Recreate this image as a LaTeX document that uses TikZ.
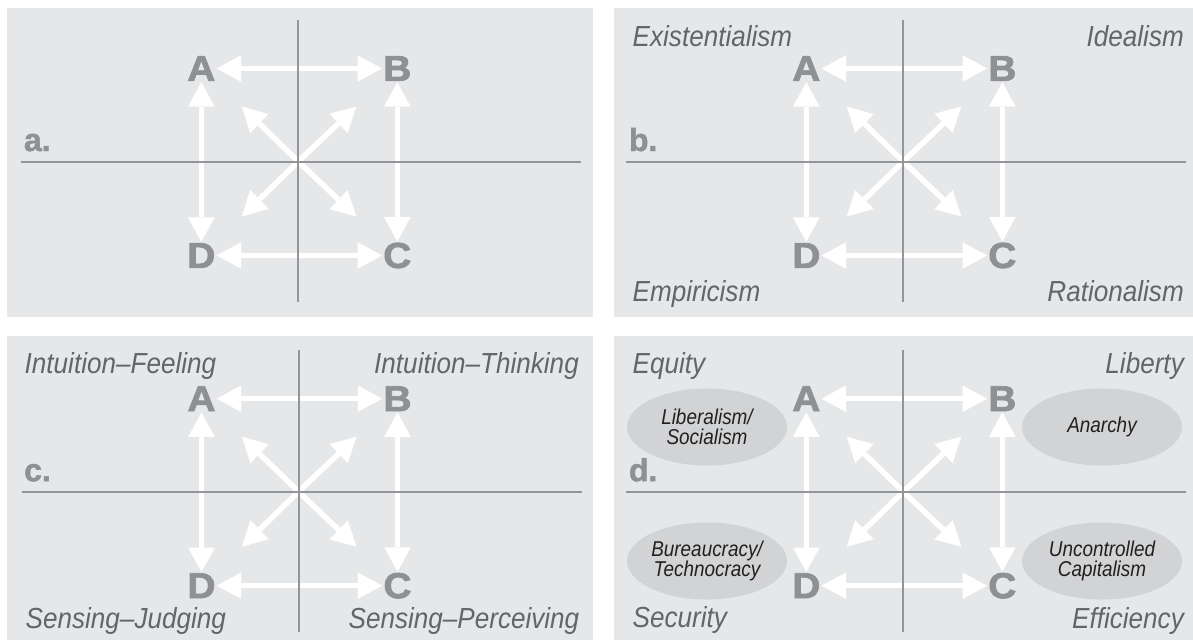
\documentclass[tikz,border=0pt]{standalone}
\usepackage{fontspec}
\setmainfont{Liberation Sans}
\newfontfamily\cornerfont[FakeStretch=1.08, BoldFeatures={FakeBold=2}]{Liberation Sans}
\newfontfamily\tagfont[BoldFeatures={FakeBold=1.5}]{Liberation Sans}
\newfontfamily\captionfont[FakeStretch=0.9]{Liberation Sans}
\newfontfamily\ovalfont[FakeStretch=0.88]{Liberation Sans}
\usetikzlibrary{arrows.meta,shapes.geometric}

\definecolor{panelbg}{HTML}{E6E7E8}
\definecolor{axisgray}{HTML}{939598}
\definecolor{lettergray}{HTML}{8F9093}
\definecolor{textgray}{HTML}{646568}
\definecolor{ovalfill}{HTML}{D1D3D4}
\definecolor{ovaltext}{HTML}{231F20}

\tikzset{
  panel/.style={fill=panelbg, draw=none},
  axis/.style={draw=axisgray, line width=2pt},
  corner/.style={font=\cornerfont\bfseries\fontsize{36}{36}\selectfont,
    text=lettergray, inner sep=1pt},
  tag/.style={font=\tagfont\bfseries\fontsize{32}{32}\selectfont, text=lettergray,
    inner sep=0pt, anchor=base west},
  whitehead/.tip={Triangle[length=24.5pt,width=26.5pt,line width=0pt]},
  twoway/.style={draw=white, line width=5.5pt, whitehead-whitehead},
  oneway/.style={draw=white, line width=5.5pt, -whitehead},
  pole/.style={font=\captionfont\itshape\fontsize{29}{30}\selectfont,
    text=textgray, inner sep=0pt},
  poleL/.style={pole, anchor=base west},
  poleR/.style={pole, anchor=base east},
  oval/.style={ellipse, fill=ovalfill, minimum width=160pt,
    minimum height=77pt, inner sep=0pt, align=center,
    font=\ovalfont\itshape\fontsize{21.5}{20.5}\selectfont, text=ovaltext},
}

% One quadrant diagram: #1 name prefix, #2/#3 centre of the axes, #4 tag
\newcommand\quadframe[4]{%
  \begin{scope}[shift={(#2,#3)}]
    \node[corner] (#1A) at (-97,-93) {A};
    \node[corner] (#1B) at (99,-93) {B};
    \node[corner] (#1C) at (99,94) {C};
    \node[corner] (#1D) at (-97,94) {D};
    \coordinate (#1O) at (0,0);
    \coordinate (#1ul) at (-56.5,-55);
    \coordinate (#1ur) at (58,-55);
    \coordinate (#1ll) at (-56.5,55);
    \coordinate (#1lr) at (58,55);
    \coordinate (#1N) at (0,-141.5);
    \coordinate (#1S) at (0,140.5);
    \coordinate (#1W) at (-277,0);
    \coordinate (#1E) at (283,0);
    \draw[twoway] (#1A) -- (#1B);
    \draw[twoway] (#1D) -- (#1C);
    \draw[twoway] (#1A) -- (#1D);
    \draw[twoway] (#1B) -- (#1C);
    \draw[oneway] (#1O) -- (#1ul);
    \draw[oneway] (#1O) -- (#1ur);
    \draw[oneway] (#1O) -- (#1ll);
    \draw[oneway] (#1O) -- (#1lr);
    \draw[axis] (#1N) -- (#1S);
    \draw[axis] (#1W) -- (#1E);
    \node[tag] (#1tag) at (-274.5,-10.5) {#4.};
  \end{scope}}

\begin{document}
\begin{tikzpicture}[x=1pt,y=-1pt]
  \useasboundingbox (0,0) rectangle (1193,640);
  \fill[white] (0,0) rectangle (1193,640);

  % panels
  \fill[panel] (7,8) rectangle (593,317);
  \fill[panel] (614,8) rectangle (1193,317);
  \fill[panel] (7,336) rectangle (593,640);
  \fill[panel] (614,336) rectangle (1193,640);

  % ovals of the political panel
  \node[oval] (lib) at (707,427) {Liberalism/\\Socialism};
  \node[oval] (ana) at (1102,427) {Anarchy};
  \node[oval] (bur) at (707,561) {Bureaucracy/\\Technocracy};
  \node[oval] (cap) at (1102,561) {Uncontrolled\\Capitalism};

  \quadframe{a}{298.3}{161.5}{a}
  \quadframe{b}{903.3}{161.5}{b}
  \quadframe{c}{298.5}{491.7}{c}
  \quadframe{d}{903.3}{491.7}{d}

  % philosophy
  \node[poleL] (exi) at (632.5,46) {Existentialism};
  \node[poleR] (ide) at (1184,46) {Idealism};
  \node[poleL] (emp) at (632.5,301.5) {Empiricism};
  \node[poleR] (rat) at (1184,301.5) {Rationalism};

  % personality types
  \node[poleL] (inf) at (24.5,373.3) {Intuition–Feeling};
  \node[poleR] (int) at (579,373.3) {Intuition–Thinking};
  \node[poleL] (snj) at (25.5,628) {Sensing–Judging};
  \node[poleR] (snp) at (579.5,628) {Sensing–Perceiving};

  % values
  \node[poleL] (equ) at (632.5,373.3) {Equity};
  \node[poleR] (lbt) at (1184,373.3) {Liberty};
  \node[poleL] (sec) at (632.5,627.5) {Security};
  \node[poleR] (eff) at (1184,628) {Efficiency};
\end{tikzpicture}
\end{document}
